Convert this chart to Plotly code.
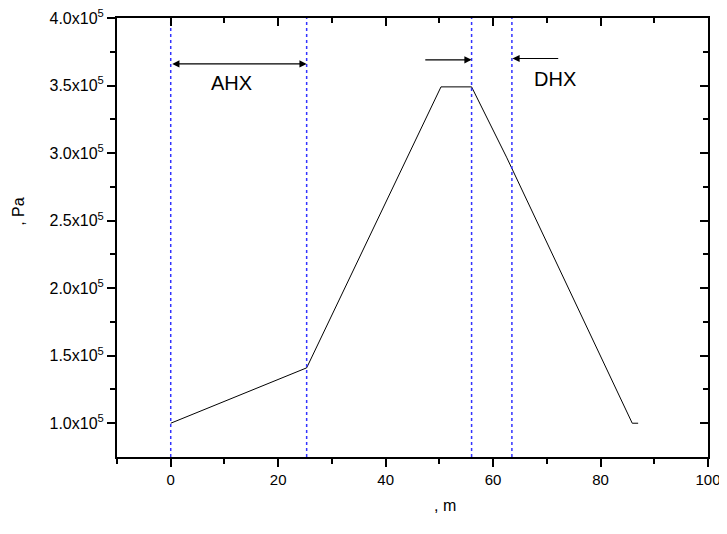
import plotly.graph_objects as go

# Data
x_m = [0, 25.3, 50.3, 56.0, 62.5, 85.9, 87.0]
p_pa = [1.0e5, 1.41e5, 3.49e5, 3.49e5, 2.97e5, 1.0e5, 1.0e5]
vlines_x = [0, 25.3, 56.0, 63.5]
x_tickvals = [0, 20, 40, 60, 80, 100]
x_minor = [-10, 10, 30, 50, 70, 90]
y_tickvals = [1.0e5, 1.5e5, 2.0e5, 2.5e5, 3.0e5, 3.5e5, 4.0e5]
y_ticktext = ["1.0x10<sup>5</sup>", "1.5x10<sup>5</sup>", "2.0x10<sup>5</sup>", "2.5x10<sup>5</sup>",
              "3.0x10<sup>5</sup>", "3.5x10<sup>5</sup>", "4.0x10<sup>5</sup>"]
y_minor = [1.25e5, 1.75e5, 2.25e5, 2.75e5, 3.25e5, 3.75e5]
x_range = [-10, 100]
y_range = [0.75e5, 4.0e5]
x_title = ", m"
y_title = ", Pa"

FONT = "Liberation Sans, Arial, sans-serif"

fig = go.Figure()
fig.add_trace(go.Scatter(x=x_m, y=p_pa, mode="lines", line=dict(color="black", width=1),
                         showlegend=False, hoverinfo="skip"))
for v in vlines_x:
    fig.add_trace(go.Scatter(x=[v, v], y=y_range, mode="lines",
                             line=dict(color="#3333ff", width=1.5, dash="dot"),
                             showlegend=False, hoverinfo="skip"))
# invisible trace for mirror axes
fig.add_trace(go.Scatter(x=x_range, y=y_range, xaxis="x2", yaxis="y2", mode="lines",
                         line=dict(width=0), opacity=0, showlegend=False, hoverinfo="skip"))

# Arrows
arrow_defs = [
    (25.3, 3.66e5, 0, 3.66e5, "end+start"),
    (56.0, 3.69e5, 47.1, 3.69e5, "end"),
    (63.6, 3.70e5, 72.4, 3.70e5, "end"),
]
for xh, yh, xt, yt, side in arrow_defs:
    fig.add_annotation(x=xh, y=yh, ax=xt, ay=yt, xref="x", yref="y", axref="x", ayref="y",
                       text="", showarrow=True, arrowhead=2, arrowside=side,
                       arrowsize=1.2, arrowwidth=1.2, arrowcolor="black", standoff=0, startstandoff=0)

labels = [("AHX", 11.4, 3.52e5), ("DHX", 71.6, 3.55e5)]
for t, lx, ly in labels:
    fig.add_annotation(x=lx, y=ly, xref="x", yref="y", text=t, showarrow=False,
                       font=dict(family=FONT, size=20, color="black"))

# axis titles
fig.add_annotation(x=0.555, y=-0.11, xref="paper", yref="paper", text=x_title, showarrow=False,
                   xanchor="center", yanchor="middle", font=dict(family=FONT, size=16, color="black"))
fig.add_annotation(x=-0.168, y=0.56, xref="paper", yref="paper", text=y_title, showarrow=False,
                   textangle=-90, xanchor="center", yanchor="middle",
                   font=dict(family=FONT, size=16, color="black"))

tk = dict(tickwidth=2, tickcolor="black")
axis_common = dict(showgrid=False, zeroline=False, showline=True, linecolor="black", linewidth=2,
                   automargin=False)
fig.update_layout(
    width=719, height=526,
    margin=dict(l=109, r=19, t=10, b=77),
    paper_bgcolor="white", plot_bgcolor="white",
    font=dict(family=FONT, size=15, color="black"),
    xaxis=dict(range=x_range, tickvals=x_tickvals, ticks="outside", ticklen=8, **tk,
               minor=dict(ticks="outside", tickvals=x_minor, ticklen=5, **tk),
               tickfont=dict(size=15), ticklabeloverflow="allow", **axis_common),
    yaxis=dict(range=y_range, tickvals=y_tickvals, ticktext=y_ticktext, ticks="outside", ticklen=8, **tk,
               minor=dict(ticks="outside", tickvals=y_minor, ticklen=5, **tk),
               tickfont=dict(size=16), ticklabeloverflow="allow", **axis_common),
    xaxis2=dict(range=x_range, overlaying="x", side="top", tickvals=x_tickvals,
                ticks="inside", ticklen=8, showticklabels=False, **tk,
                minor=dict(ticks="inside", tickvals=x_minor, ticklen=5, **tk),
                **axis_common),
    yaxis2=dict(range=y_range, overlaying="y", side="right", tickvals=y_tickvals,
                ticks="inside", ticklen=8, showticklabels=False, **tk,
                minor=dict(ticks="inside", tickvals=y_minor, ticklen=5, **tk),
                **axis_common),
)

fig.write_html("out.html")
